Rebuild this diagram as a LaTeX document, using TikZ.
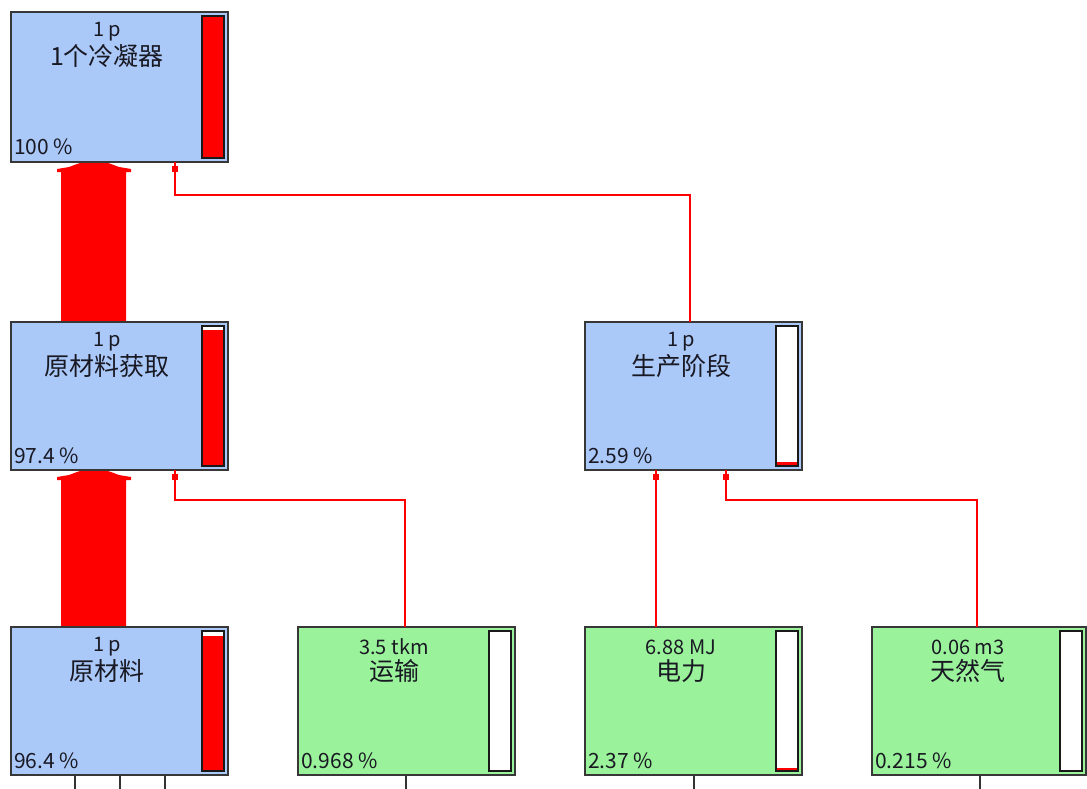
\documentclass[tikz,border=0pt]{standalone}
\usepackage{fontspec}
\setmainfont{Noto Sans CJK SC}
\usetikzlibrary{calc}
\definecolor{procblue}{RGB}{170,200,248}
\definecolor{procgreen}{RGB}{154,242,154}
\definecolor{boxline}{RGB}{55,55,55}
\definecolor{txt}{RGB}{25,25,35}
\tikzset{
  box/.style={draw=boxline, line width=1.5pt, outer sep=0pt, inner sep=0pt,
    minimum height=148pt, minimum width=217pt, anchor=north west},
  bluebox/.style={box, fill=procblue},
  greenbox/.style={box, fill=procgreen},
  qty/.style={font=\fontsize{20}{20}\selectfont, text=txt, anchor=center, inner sep=0pt},
  pname/.style={font=\fontsize{25}{25}\selectfont, text=txt, anchor=center, inner sep=0pt},
  pct/.style={font=\fontsize{21}{21}\selectfont, text=txt, anchor=base west, inner sep=0pt},
  link/.style={draw=red, line width=1.3pt},
  stub/.style={draw=black!80, line width=1.4pt},
  barframe/.style={draw=black!90, line width=1.4pt},
  flow/.style={fill=red},
}
\newcommand\pbar[2]{%
  \coordinate (#1-bl) at ($(#1.south east)+(-26,-4)$);
  \coordinate (#1-br) at ($(#1.south east)+(-4,-4)$);
  \coordinate (#1-tr) at ($(#1.north east)+(-4,4)$);
  \fill[white] (#1-bl) rectangle (#1-tr);
  \fill[red] (#1-bl) rectangle ($(#1-br)!#2!(#1-tr)$);
  \draw[barframe] (#1-bl) rectangle (#1-tr);
}
\newcommand\plabels[4]{%
  \node[qty] (#1-q) at ($(#1.north west)+(96,20)$) {#2};
  \node[pname] (#1-n) at ($(#1.north west)+(96,44)$) {#3};
  \node[pct] (#1-p) at ($(#1.south west)+(3,-7)$) {#4};
}
\newcommand\pdot[1]{\fill[red] ($#1+(-2.6,-2.6)$) rectangle ($#1+(2.6,2.6)$);}
\begin{document}
\begin{tikzpicture}[x=1pt,y=-1pt]
\useasboundingbox (0,0) rectangle (1087,789);
\fill[white] (0,0) rectangle (1087,789);

% big flows
\fill[flow] (61,627) -- (61,480) -- (57,480) -- (57,477) -- (69,475) -- (77,472) -- (83,470)
  -- (105,470) -- (111,472) -- (119,475) -- (131,477) -- (131,480) -- (126,480) -- (126,627) -- cycle;
\fill[flow] (61,322) -- (61,172) -- (57,172) -- (57,169) -- (69,167) -- (77,164) -- (83,162)
  -- (105,162) -- (111,164) -- (119,167) -- (131,169) -- (131,172) -- (126,172) -- (126,322) -- cycle;

% boxes
\node[bluebox, minimum height=150pt] (b1) at (11,12) {};
\node[bluebox] (b2) at (11,322) {};
\node[bluebox] (b3) at (11,627) {};
\node[greenbox] (b4) at (298,627) {};
\node[bluebox] (b5) at (585,322) {};
\node[greenbox] (b6) at (585,627) {};
\node[greenbox, minimum width=214pt] (b7) at (872,627) {};

\pbar{b1}{1}
\pbar{b2}{0.974}
\pbar{b3}{0.964}
\pbar{b4}{0.00968}
\pbar{b5}{0.0259}
\pbar{b6}{0.0237}
\pbar{b7}{0.00215}

\plabels{b1}{1 p}{1个冷凝器}{100 \%}
\plabels{b2}{1 p}{原材料获取}{97.4 \%}
\plabels{b3}{1 p}{原材料}{96.4 \%}
\plabels{b4}{3.5 tkm}{运输}{0.968 \%}
\plabels{b5}{1 p}{生产阶段}{2.59 \%}
\plabels{b6}{6.88 MJ}{电力}{2.37 \%}
\plabels{b7}{0.06 m3}{天然气}{0.215 \%}

% thin connectors
\draw[link] ([xshift=107pt]b4.north west) -- ++(0,-127) -| ([xshift=164pt]b2.south west);
\pdot{([xshift=164pt,yshift=-7pt]b2.south west)}
\draw[link] ([xshift=105pt]b5.north west) -- ++(0,-127) -| ([xshift=164pt]b1.south west);
\pdot{([xshift=164pt,yshift=-7pt]b1.south west)}
\draw[link] ([xshift=71pt]b6.north west) -- ([xshift=71pt]b5.south west);
\pdot{([xshift=71pt,yshift=-7pt]b5.south west)}
\draw[link] ([xshift=105pt]b7.north west) -- ++(0,-127) -| ([xshift=141pt]b5.south west);
\pdot{([xshift=141pt,yshift=-7pt]b5.south west)}

% stubs below
\draw[stub] ([xshift=64pt]b3.south west) -- ++(0,15);
\draw[stub] ([xshift=109pt]b3.south west) -- ++(0,15);
\draw[stub] ([xshift=154pt]b3.south west) -- ++(0,15);
\draw[stub] ([xshift=108pt]b4.south west) -- ++(0,15);
\draw[stub] ([xshift=109pt]b6.south west) -- ++(0,15);
\draw[stub] ([xshift=108pt]b7.south west) -- ++(0,15);
\end{tikzpicture}
\end{document}
